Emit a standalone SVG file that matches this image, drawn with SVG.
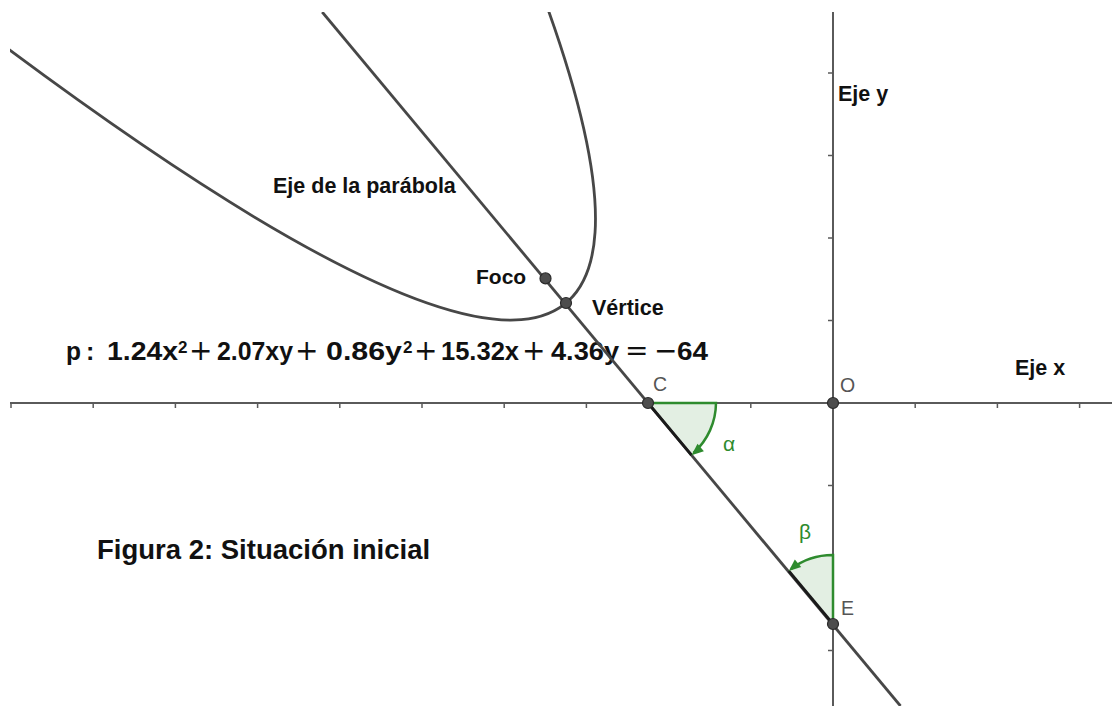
<svg xmlns="http://www.w3.org/2000/svg" width="1112" height="706" viewBox="0 0 1112 706">
<style>
.axis{stroke:#5a5a5a;stroke-width:2;fill:none}
.tick{stroke:#5a5a5a;stroke-width:1.5}
.curve{stroke:#474747;stroke-width:2.8;fill:none}
.pt{fill:#4d4d4d;stroke:#2a2a2a;stroke-width:1.2}
.lbl{font-family:"Liberation Sans",Arial,sans-serif;font-weight:bold;fill:#111}
.eq{font-family:"Liberation Sans",Arial,sans-serif;font-weight:bold;fill:#111;font-size:25px}
.op{font-family:"DejaVu Sans",sans-serif;fill:#111;font-size:28px}
.sup{font-family:"Liberation Sans",Arial,sans-serif;font-weight:bold;fill:#111;font-size:17px}
.ptl{font-family:"Liberation Sans",Arial,sans-serif;fill:#555;font-size:19.5px}
.ang{fill:#e3efe3;stroke:none}
.angs{stroke:#2e8b2e;stroke-width:2.5;fill:none}
.arr{fill:#2e8b2e}
.gl{font-family:"Liberation Sans",Arial,sans-serif;fill:#2e8b2e;font-size:21px}
</style>
<defs><clipPath id="cl"><rect x="10" y="12" width="1102" height="694"/></clipPath></defs>
<rect width="1112" height="706" fill="#fff"/>
<g id="axes" clip-path="url(#cl)">
<line class="axis" x1="10" y1="403" x2="1112" y2="403"/>
<line class="axis" x1="833" y1="12" x2="833" y2="706"/>
<g class="tick">
<line x1="11" y1="403" x2="11" y2="408"/><line x1="93.2" y1="403" x2="93.2" y2="408"/><line x1="175.4" y1="403" x2="175.4" y2="408"/><line x1="257.6" y1="403" x2="257.6" y2="408"/><line x1="339.8" y1="403" x2="339.8" y2="408"/><line x1="422" y1="403" x2="422" y2="408"/><line x1="504.2" y1="403" x2="504.2" y2="408"/><line x1="586.4" y1="403" x2="586.4" y2="408"/><line x1="668.6" y1="403" x2="668.6" y2="408"/><line x1="750.8" y1="403" x2="750.8" y2="408"/><line x1="915.2" y1="403" x2="915.2" y2="408"/><line x1="997.4" y1="403" x2="997.4" y2="408"/><line x1="1079.6" y1="403" x2="1079.6" y2="408"/>
<line x1="828" y1="73" x2="833" y2="73"/><line x1="828" y1="155.5" x2="833" y2="155.5"/><line x1="828" y1="238" x2="833" y2="238"/><line x1="828" y1="320.5" x2="833" y2="320.5"/><line x1="828" y1="485.5" x2="833" y2="485.5"/><line x1="828" y1="568" x2="833" y2="568"/><line x1="828" y1="650.5" x2="833" y2="650.5"/>
</g>
</g>
<g id="angles">
<path class="ang" d="M648 403 L716 403 A68 68 0 0 1 691.5 455.2 Z"/>
<path class="ang" d="M833 624 L833 555 A69 69 0 0 0 788.8 571 Z"/>
</g>
<g id="equation">
<text class="eq" x="66" y="360" textLength="15" lengthAdjust="spacingAndGlyphs">p</text>
<text class="eq" x="86" y="360">:</text>
<text class="eq" x="107" y="360" textLength="71" lengthAdjust="spacingAndGlyphs">1.24x</text>
<text class="sup" x="178" y="353">2</text>
<text class="op" x="189" y="360">+</text>
<text class="eq" x="217" y="360" textLength="76" lengthAdjust="spacingAndGlyphs">2.07xy</text>
<text class="op" x="295" y="360">+</text>
<text class="eq" x="326" y="360" textLength="76" lengthAdjust="spacingAndGlyphs">0.86y</text>
<text class="sup" x="403" y="353">2</text>
<text class="op" x="414" y="360">+</text>
<text class="eq" x="441" y="360" textLength="78" lengthAdjust="spacingAndGlyphs">15.32x</text>
<text class="op" x="522" y="360">+</text>
<text class="eq" x="551" y="360" textLength="68" lengthAdjust="spacingAndGlyphs">4.36y</text>
<text class="op" x="625" y="360">=</text>
<text class="op" x="654" y="360">−</text>
<text class="eq" x="677" y="360" textLength="31" lengthAdjust="spacingAndGlyphs">64</text>
</g>
<g id="connectors" clip-path="url(#cl)">
<path id="parabola" class="curve" d="M-6 38.4 Q774.5 623.5 542.2 -6.7"/>
<line id="eje-parabola" class="curve" x1="322.2" y1="12" x2="900.5" y2="706"/>
<line stroke="#1a1a1a" stroke-width="2.8" x1="648" y1="403" x2="691.5" y2="455.2"/>
<line stroke="#1a1a1a" stroke-width="2.8" x1="833" y1="624" x2="788.8" y2="571"/>
</g>
<g id="alpha">
<path class="angs" d="M648 403 L716 403 A68 68 0 0 1 693.5 453"/>
<polygon class="arr" points="691.5,455.2 703.9,451.3 697.5,443.7"/>
<text class="gl" x="723" y="451">α</text>
</g>
<g id="beta">
<path class="angs" d="M833 624 L833 555 A69 69 0 0 0 791 569"/>
<polygon class="arr" points="788.8,571 801.2,567.1 794.8,559.5"/>
<text class="gl" x="799" y="539">β</text>
</g>
<g id="points">
<circle class="pt" cx="545.5" cy="278.4" r="5.5"/>
<circle class="pt" cx="566" cy="303" r="5.5"/>
<circle class="pt" cx="648" cy="403" r="5.5"/>
<circle class="pt" cx="833" cy="403" r="5.5"/>
<circle class="pt" cx="833" cy="624" r="5.5"/>
</g>
<g id="labels">
<text class="lbl" x="273" y="193" font-size="21.5">Eje de la parábola</text>
<text class="lbl" x="476" y="284" font-size="21">Foco</text>
<text class="lbl" x="592" y="315" font-size="21.5">Vértice</text>
<text class="lbl" x="838" y="101" font-size="21.5">Eje y</text>
<text class="lbl" x="1015" y="375" font-size="21.5">Eje x</text>
<text class="ptl" x="653" y="391">C</text>
<text class="ptl" x="840" y="392">O</text>
<text class="ptl" x="841" y="615">E</text>
<text class="lbl" x="97" y="559" font-size="27.5">Figura 2: Situación inicial</text>
</g>
</svg>
